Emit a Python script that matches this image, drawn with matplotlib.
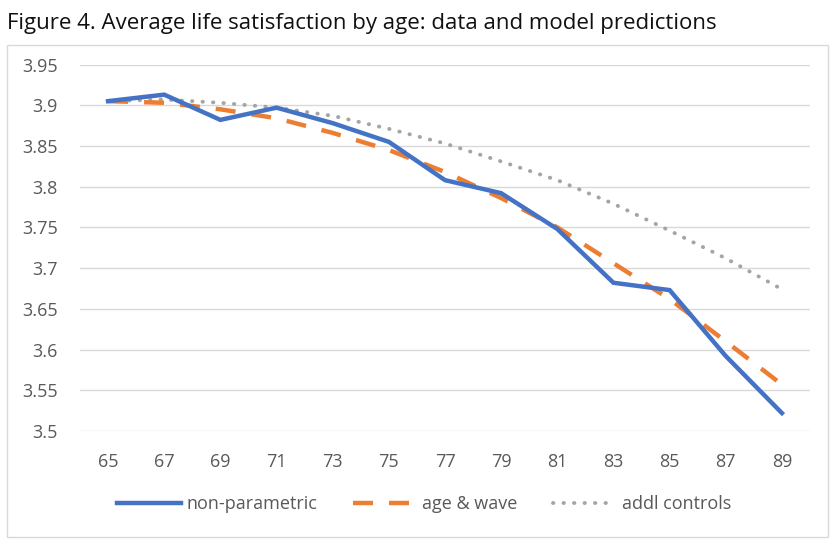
import matplotlib.pyplot as plt
from matplotlib.patches import Rectangle

# Data
ages = [65, 67, 69, 71, 73, 75, 77, 79, 81, 83, 85, 87, 89]
non_parametric = [3.905, 3.913, 3.882, 3.897, 3.878, 3.855, 3.808, 3.792,
                  3.748, 3.682, 3.673, 3.592, 3.522]
age_wave = [3.905, 3.903, 3.895, 3.884, 3.866, 3.845, 3.818, 3.786,
            3.750, 3.706, 3.662, 3.610, 3.557]
addl_controls = [3.905, 3.907, 3.903, 3.897, 3.887, 3.871, 3.853, 3.831,
                 3.808, 3.779, 3.746, 3.712, 3.674]
yticks = [3.5, 3.55, 3.6, 3.65, 3.7, 3.75, 3.8, 3.85, 3.9, 3.95]

BLUE = '#4472C4'
ORANGE = '#ED7D31'
GRAY = '#A5A5A5'
TXT = '#595959'
GRID = '#D9D9D9'

plt.rcParams['font.family'] = ['Open Sans', 'DejaVu Sans']

fig = plt.figure(figsize=(8.4, 5.42), dpi=100)
ax = fig.add_axes([80 / 840, 1 - 431 / 542, 730 / 840, (431 - 64.5) / 542])

# chart frame
fig.patches.append(Rectangle((7 / 840, 1 - 537 / 542), 821 / 840, 492 / 542,
                             transform=fig.transFigure, fill=False,
                             edgecolor='#D9D9D9', lw=1.0))

fig.text(7 / 840, 1 - 24 / 542, 'Figure 4. Average life satisfaction by age: data and model predictions',
         fontsize=16, color='#111111', va='center', ha='left')

x = list(range(len(ages)))
l1, = ax.plot(x, non_parametric, color=BLUE, lw=3.2, solid_joinstyle='miter',
              label='non-parametric', zorder=4)
l2, = ax.plot(x, age_wave, color=ORANGE, lw=3.2, dashes=(4.5, 3.6),
              dash_capstyle='butt', label='age & wave', zorder=3)
l3, = ax.plot(x, addl_controls, color=GRAY, lw=2.8, dashes=(0.1, 2.6),
              dash_capstyle='round', label='addl controls', zorder=2)

ax.set_xlim(-0.5, len(ages) - 0.5)
ax.set_ylim(3.5, 3.95)
ax.set_xticks(x)
ax.set_xticklabels([str(a) for a in ages])
ax.set_yticks(yticks)
ax.set_yticklabels([f'{v:g}' for v in yticks])
ax.tick_params(axis='both', length=0, labelsize=13, colors=TXT)
ax.tick_params(axis='x', pad=16)
ax.tick_params(axis='y', pad=16)
ax.grid(axis='y', color=GRID, lw=1.0)
ax.set_axisbelow(True)
for s in ax.spines.values():
    s.set_visible(False)

fig.legend(handles=[l1, l2, l3], loc='center', bbox_to_anchor=(0.505, 1 - 504 / 542),
           ncol=3, frameon=False, fontsize=13, handlelength=3.5,
           columnspacing=2.0, handletextpad=0.3, labelcolor=TXT)

fig.savefig('out.png', dpi=100)
